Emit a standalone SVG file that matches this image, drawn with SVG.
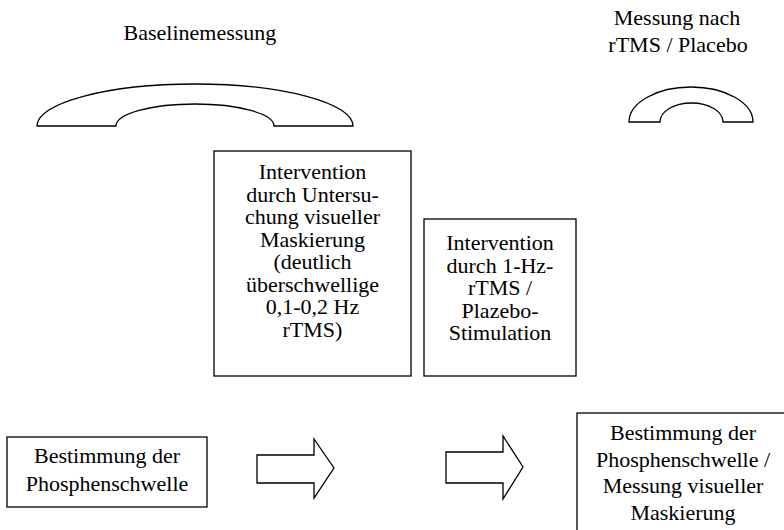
<svg xmlns="http://www.w3.org/2000/svg" width="784" height="530" viewBox="0 0 784 530">
<style>
text{font-family:'Liberation Serif','Tinos','DejaVu Serif','Times New Roman',serif;font-size:22px;fill:#000;text-anchor:middle}
.b{fill:#fff;stroke:#000;stroke-width:1.3}
</style>
<rect width="784" height="530" fill="#fff"/>
<g id="baseline">
<text x="200" y="40">Baselinemessung</text>
<path class="b" d="M37,126 A158,42 0 0 1 353,126 L274,126 A79,22 0 0 0 116,126 Z"/>
</g>
<g id="messung-nach">
<text x="677" y="25">Messung nach</text>
<text x="678" y="52">rTMS / Placebo</text>
<path class="b" d="M629,122 A62,35 0 0 1 753,122 L723,122 A31.5,19 0 0 0 660,122 Z"/>
</g>
<g id="intervention1">
<rect class="b" x="214" y="151" width="197" height="225"/>
<text x="312.5" y="179">Intervention</text>
<text x="312.5" y="201.5">durch Untersu-</text>
<text x="312.5" y="224">chung visueller</text>
<text x="312.5" y="246.5">Maskierung</text>
<text x="312.5" y="269">(deutlich</text>
<text x="312.5" y="291.5">überschwellige</text>
<text x="312.5" y="314">0,1-0,2 Hz</text>
<text x="312.5" y="336.5">rTMS)</text>
</g>
<g id="intervention2">
<rect class="b" x="424" y="219" width="152" height="157"/>
<text x="500" y="250">Intervention</text>
<text x="500" y="272.5">durch 1-Hz-</text>
<text x="500" y="295">rTMS /</text>
<text x="500" y="317.5">Plazebo-</text>
<text x="500" y="340">Stimulation</text>
</g>
<g id="bestimmung1">
<rect class="b" x="7" y="437" width="200" height="70"/>
<text x="107" y="463">Bestimmung der</text>
<text x="107" y="491">Phosphenschwelle</text>
</g>
<g id="bestimmung2">
<rect class="b" x="577" y="413" width="220" height="130"/>
<text x="683" y="440">Bestimmung der</text>
<text x="683" y="467">Phosphenschwelle /</text>
<text x="683" y="493">Messung visueller</text>
<text x="683" y="520">Maskierung</text>
</g>
<g id="connectors">
<path class="b" d="M257,455 L314,455 L314,439 L334,468 L314,498 L314,483 L257,483 Z"/>
<path class="b" d="M446,452 L503,452 L503,436 L523,467 L503,499 L503,483 L446,483 Z"/>
</g>
</svg>
